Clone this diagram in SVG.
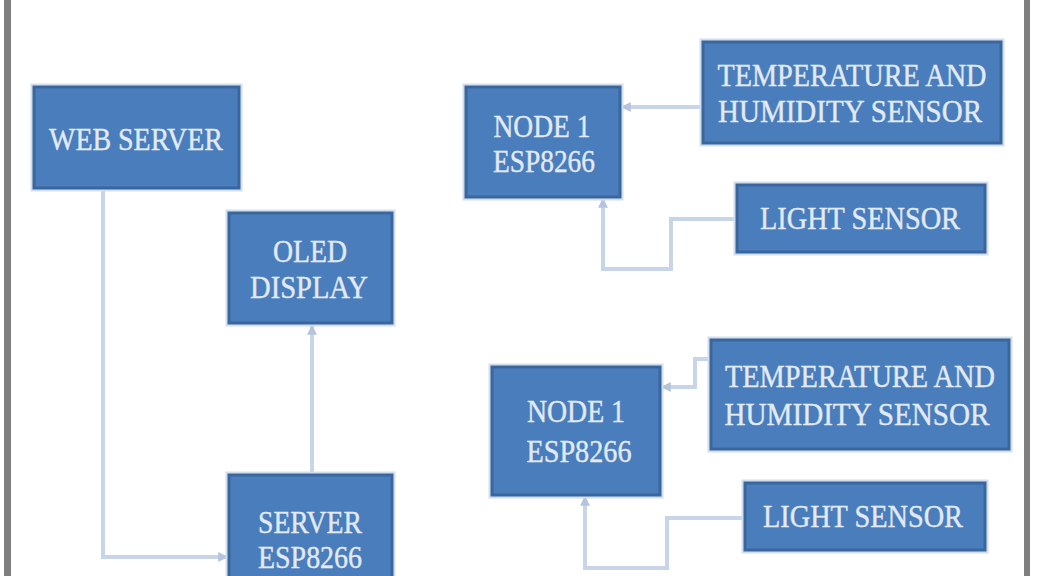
<svg xmlns="http://www.w3.org/2000/svg" width="1038" height="576" viewBox="0 0 1038 576">
<defs>
<style>
.box{fill:#4a7dbb;stroke:#3a669e;stroke-width:3}
.halo{fill:none;stroke:#d3deee;stroke-width:3}
.t{font-family:"Liberation Serif","Times New Roman",serif;font-size:31px;fill:#e2eaf5;text-anchor:middle;stroke:#e2eaf5;stroke-width:0.4}
.c{fill:none;stroke:#c8d5e8;stroke-width:4}
.frame{fill:#7f7f7f}
</style>
<marker id="ah" markerWidth="2.5" markerHeight="2.5" refX="2.2" refY="1.25" orient="auto" markerUnits="strokeWidth">
<path d="M0,0 L2.5,1.25 L0,2.5 Z" fill="#b3c4dc"/>
</marker>
</defs>
<rect width="1038" height="576" fill="#ffffff"/>
<rect class="frame" x="4" y="0" width="7" height="576"/>
<rect class="frame" x="1024" y="0" width="6" height="576"/>

<g id="connectors">
<path class="c" d="M103,188 V557 H227" marker-end="url(#ah)"/>
<path class="c" d="M312,475 V326" marker-end="url(#ah)"/>
<path class="c" d="M703,107 H622" marker-end="url(#ah)"/>
<path class="c" d="M737,219 H671 V269 H603 V199" marker-end="url(#ah)"/>
<path class="c" d="M711,359 H695 V387 H662" marker-end="url(#ah)"/>
<path class="c" d="M745,518 H667 V568 H585 V497" marker-end="url(#ah)"/>
</g>

<g id="web-server">
<rect class="halo" x="32" y="85" width="209" height="105"/>
<rect class="box" x="34" y="87" width="205" height="101"/>
<text class="t" x="136" y="150" textLength="174" lengthAdjust="spacingAndGlyphs">WEB SERVER</text>
</g>

<g id="oled-display">
<rect class="halo" x="227" y="211" width="167" height="114"/>
<rect class="box" x="229" y="213" width="163" height="110"/>
<text class="t" x="310" y="262" textLength="74" lengthAdjust="spacingAndGlyphs">OLED</text>
<text class="t" x="309" y="298" textLength="118" lengthAdjust="spacingAndGlyphs">DISPLAY</text>
</g>

<g id="server-esp8266">
<rect class="halo" x="227" y="473" width="167" height="114"/>
<rect class="box" x="229" y="475" width="163" height="110"/>
<text class="t" x="310" y="533" textLength="104" lengthAdjust="spacingAndGlyphs">SERVER</text>
<text class="t" x="310" y="568" textLength="104" lengthAdjust="spacingAndGlyphs">ESP8266</text>
</g>

<g id="node1-top">
<rect class="halo" x="464" y="85" width="158" height="114"/>
<rect class="box" x="466" y="87" width="154" height="110"/>
<text class="t" x="542" y="137" textLength="97" lengthAdjust="spacingAndGlyphs">NODE 1</text>
<text class="t" x="544" y="172" textLength="102" lengthAdjust="spacingAndGlyphs">ESP8266</text>
</g>

<g id="temp-humidity-top">
<rect class="halo" x="701" y="40" width="302" height="105"/>
<rect class="box" x="703" y="42" width="298" height="101"/>
<text class="t" x="852" y="86" textLength="269" lengthAdjust="spacingAndGlyphs">TEMPERATURE AND</text>
<text class="t" x="850" y="122" textLength="264" lengthAdjust="spacingAndGlyphs">HUMIDITY  SENSOR</text>
</g>

<g id="light-sensor-top">
<rect class="halo" x="735" y="183" width="252" height="71"/>
<rect class="box" x="737" y="185" width="248" height="67"/>
<text class="t" x="860" y="229" textLength="200" lengthAdjust="spacingAndGlyphs">LIGHT SENSOR</text>
</g>

<g id="node1-bottom">
<rect class="halo" x="490" y="365" width="172" height="132"/>
<rect class="box" x="492" y="367" width="168" height="128"/>
<text class="t" x="576" y="422" textLength="98" lengthAdjust="spacingAndGlyphs">NODE 1</text>
<text class="t" x="579" y="462" textLength="105" lengthAdjust="spacingAndGlyphs">ESP8266</text>
</g>

<g id="temp-humidity-bottom">
<rect class="halo" x="709" y="338" width="302" height="113"/>
<rect class="box" x="711" y="340" width="298" height="109"/>
<text class="t" x="860" y="387" textLength="270" lengthAdjust="spacingAndGlyphs">TEMPERATURE AND</text>
<text class="t" x="857" y="425" textLength="265" lengthAdjust="spacingAndGlyphs">HUMIDITY  SENSOR</text>
</g>

<g id="light-sensor-bottom">
<rect class="halo" x="743" y="481" width="244" height="71"/>
<rect class="box" x="745" y="483" width="240" height="67"/>
<text class="t" x="863" y="527" textLength="200" lengthAdjust="spacingAndGlyphs">LIGHT SENSOR</text>
</g>
</svg>
